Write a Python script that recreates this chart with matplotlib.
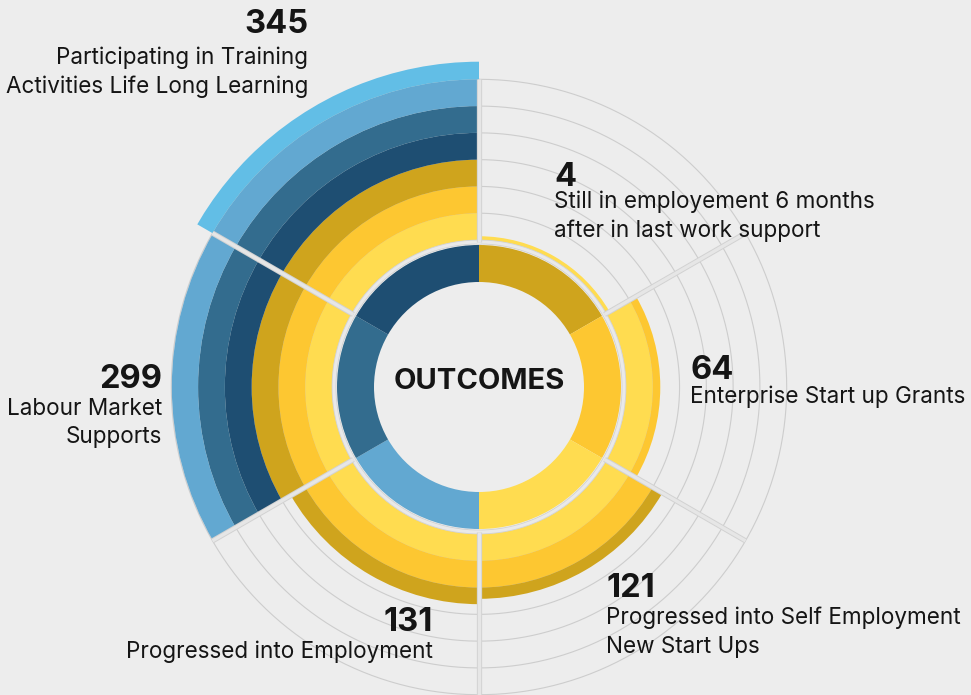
import numpy as np
import matplotlib
matplotlib.use('Agg')
from matplotlib import pyplot as plt

# data
categories = ['Still in employement 6 months\nafter in last work support',
              'Enterprise Start up Grants',
              'Progressed into Self Employment\nNew Start Ups',
              'Progressed into Employment',
              'Labour Market\nSupports',
              'Participating in Training\nActivities Life Long Learning']
values = [4, 64, 121, 131, 299, 345]
band_size = 50
band_colors = ['#FFDC50', '#FDC731', '#CFA41D', '#1E4E72', '#336C8E', '#62A8D1', '#62BEE6']
inner_colors = ['#CFA41D', '#FDC731', '#FFDC50', '#62A8D1', '#336C8E', '#1E4E72']
center_text = 'OUTCOMES'

# layout (pixels)
W, H = 971, 695
cx, cy = 479, 387
k = 160.7 / 300          # px per unit
base_px = 147
R_px = 325.3
FONT = 'Inter'
BG = '#EDEDED'
TXT = '#151515'
MIN_LEN = 7

fig = plt.figure(figsize=(W / 100, H / 100), dpi=100)
fig.patch.set_facecolor(BG)
ax = fig.add_axes([(cx - R_px) / W, (H - cy - R_px) / H, 2 * R_px / W, 2 * R_px / H],
                  projection='polar')
ax.set_theta_zero_location('N')
ax.set_theta_direction(-1)
r_center = -base_px / k
r_top = (R_px - base_px) / k
ax.set_ylim(r_center, r_top)
ax.set_axis_off()

n = len(values)
step = 2 * np.pi / n
thetas = np.arange(n) * step + step / 2

# grid arcs
tt = np.linspace(0, 2 * np.pi, 400)
for g in range(band_size, 301, band_size):
    ax.plot(tt, np.full_like(tt, g), color='#CDCDCD', lw=0.8, zorder=1)

# inner donut
in_bottom = (105 - base_px) / k
in_height = (142 - 105) / k
ax.bar(thetas, [in_height] * n, width=step, bottom=in_bottom, color=inner_colors,
       edgecolor='none', align='center', zorder=2)

# outer stacked rings
for th, v in zip(thetas, values):
    for j, col in enumerate(band_colors):
        seg = min(max(v - band_size * j, 0), band_size)
        if j == 0:
            seg = max(seg, MIN_LEN)
        if seg <= 0:
            continue
        ax.bar(th, seg, width=step, bottom=band_size * j, color=col,
               edgecolor='none', align='center', zorder=2)

# separators and base ring
r_ring = (145 - base_px) / k
ax.plot(tt, np.full_like(tt, r_ring), color='#D2D2D2', lw=3.4, zorder=3)
ax.plot(tt, np.full_like(tt, r_ring), color='#E9E9E9', lw=2.2, zorder=3)
for i in range(n):
    a = i * step
    ax.plot([a, a], [r_ring, 300], color='#D2D2D2', lw=3.8, zorder=3, solid_capstyle='butt')
    ax.plot([a, a], [r_ring, 300], color='#E6E6E6', lw=2.4, zorder=3, solid_capstyle='butt')

fig.text(cx / W, 1 - (cy - 5) / H, center_text, ha='center', va='center', fontsize=21,
         fontweight='bold', family=FONT, color=TXT)


def put(x, y, s, size, weight='normal', ha='left'):
    fig.text(x / W, 1 - y / H, s, fontsize=size, fontweight=weight, ha=ha,
             va='baseline', family=FONT, color=TXT)


# number baseline, first label baseline, x, alignment
label_pos = [(186, 208, 554, 'left'),
             (379, 403, 690, 'left'),
             (597, 624, 606, 'left'),
             (631, 658, 433, 'right'),
             (388, 415, 162, 'right'),
             (33, 64, 308, 'right')]

for cat, v, (nb, lb, x, ha) in zip(categories, values, label_pos):
    put(x, nb, str(v), 23.5, 'bold', ha)
    for li, line in enumerate(cat.split('\n')):
        put(x, lb + 28.5 * li, line, 16.2, 'normal', ha)

fig.savefig('out.png', dpi=100, facecolor=BG)
